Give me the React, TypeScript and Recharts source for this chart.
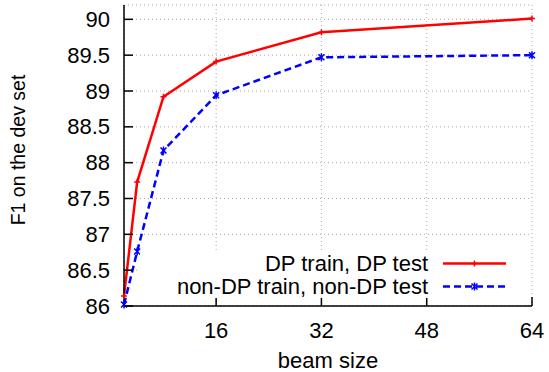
import { LineChart, Line, XAxis, YAxis, CartesianGrid, Legend } from 'recharts';

// beam size vs F1 on dev set
const beamSizes = [2, 4, 8, 16, 32, 64];
const dpTrainDpTest = [86.14, 87.73, 88.92, 89.41, 89.82, 90.01];
const nonDpTrainNonDpTest = [86.02, 86.76, 88.17, 88.94, 89.47, 89.5];
const xTicks = [16, 32, 48, 64];
const yTicks = [86, 86.5, 87, 87.5, 88, 88.5, 89, 89.5, 90];
const seriesNames = ['DP train, DP test', 'non-DP train, non-DP test'];

const data = beamSizes.map((b, i) => ({
  beam: b,
  dp: dpTrainDpTest[i],
  nonDp: nonDpTrainNonDpTest[i],
}));

const FONT = '"Liberation Sans", Arial, Helvetica, sans-serif';
const FS = 22;
const TICK = 9;
const RED = '#ff0000';
const BLUE = '#0000ff';

function LeftTick({ x, y, payload }: any) {
  return (
    <g>
      <line x1={x} x2={x + TICK} y1={y} y2={y} stroke="#000" strokeWidth={1.5} />
      <text x={x - 14} y={y} textAnchor="end" dominantBaseline="central" fontSize={FS} fontFamily={FONT} fill="#000">
        {payload.value}
      </text>
    </g>
  );
}

function RightTick({ x, y }: any) {
  return <line x1={x} x2={x - TICK} y1={y} y2={y} stroke="#000" strokeWidth={1.5} />;
}

function BottomTick({ x, y, payload }: any) {
  return (
    <g>
      <line x1={x} x2={x} y1={y} y2={y - TICK} stroke="#000" strokeWidth={1.5} />
      <text x={x} y={y + 24} textAnchor="middle" dominantBaseline="central" fontSize={FS} fontFamily={FONT} fill="#000">
        {payload.value}
      </text>
    </g>
  );
}

function TopTick({ x, y }: any) {
  return <line x1={x} x2={x} y1={y} y2={y + TICK} stroke="#000" strokeWidth={1.5} />;
}

const plusDot = ({ cx, cy, key }: any) => (
  <path key={key} d={`M${cx - 3},${cy}H${cx + 3}M${cx},${cy - 3}V${cy + 3}`} stroke={RED} strokeWidth={1.5} fill="none" />
);

const crossDot = ({ cx, cy, key }: any) => (
  <path
    key={key}
    d={`M${cx - 3},${cy - 3}L${cx + 3},${cy + 3}M${cx - 3},${cy + 3}L${cx + 3},${cy - 3}M${cx},${cy - 4}V${cy + 4}`}
    stroke={BLUE}
    strokeWidth={1.5}
    fill="none"
  />
);

function KeyBox() {
  const row = (label: string, color: string, dash: string | undefined, marker: 'plus' | 'cross') => (
    <div style={{ display: 'flex', alignItems: 'center', height: 23 }}>
      <span style={{ width: 288, textAlign: 'right', fontSize: FS, fontFamily: FONT, color: '#000', lineHeight: '23px', whiteSpace: 'nowrap' }}>
        {label}
      </span>
      <svg width={78} height={23} style={{ marginLeft: 15 }}>
        <line x1={0} x2={63} y1={11.5} y2={11.5} stroke={color} strokeWidth={2.5} strokeDasharray={dash} />
        {marker === 'plus'
          ? plusDot({ cx: 31.5, cy: 11.5 })
          : crossDot({ cx: 31.5, cy: 11.5 })}
      </svg>
    </div>
  );
  return (
    <div style={{ background: '#fff', padding: 0 }}>
      {row(seriesNames[0], RED, undefined, 'plus')}
      {row(seriesNames[1], BLUE, '7 4', 'cross')}
    </div>
  );
}

export default function App() {
  return (
    <div style={{ position: 'absolute', left: 0, top: 0, width: 549, height: 372, background: '#fff' }}>
      <LineChart width={549} height={372} data={data} margin={{ top: 5, right: 17, left: 0, bottom: 0 }}>
        <CartesianGrid stroke="#aaaaaa" strokeDasharray="1 3" strokeWidth={1} />
        <XAxis
          dataKey="beam"
          type="number"
          domain={[2, 64]}
          ticks={xTicks}
          height={66}
          tickSize={0}
          tickMargin={0}
          tickLine={false}
          tick={BottomTick}
          interval={0}
          axisLine={{ stroke: '#000', strokeWidth: 1.5 }}
          label={{
            content: ({ viewBox }: any) => (
              <text x={viewBox.x + viewBox.width / 2} y={viewBox.y + 54} textAnchor="middle" dominantBaseline="central" fontSize={FS} fontFamily={FONT} fill="#000">
                beam size
              </text>
            ),
          }}
        />
        <XAxis
          xAxisId="top"
          orientation="top"
          dataKey="beam"
          type="number"
          domain={[2, 64]}
          ticks={[16, 32, 48]}
          height={0}
          tickSize={0}
          tickMargin={0}
          tickLine={false}
          tick={TopTick}
          interval={0}
          axisLine={{ stroke: '#000', strokeWidth: 1.5 }}
        />
        <YAxis
          type="number"
          domain={[86, 90.2]}
          ticks={yTicks}
          width={124}
          tickSize={0}
          tickMargin={0}
          tickLine={false}
          tick={LeftTick}
          interval={0}
          axisLine={{ stroke: '#000', strokeWidth: 1.5 }}
          label={{
            content: ({ viewBox }: any) => {
              const cx = viewBox.x + 18;
              const cy = viewBox.y + 145;
              return (
                <text x={cx} y={cy} transform={`rotate(-90 ${cx} ${cy})`} textAnchor="middle" dominantBaseline="central" fontSize={19.5} fontFamily={FONT} fill="#000">
                  F1 on the dev set
                </text>
              );
            },
          }}
        />
        <YAxis
          yAxisId="right"
          orientation="right"
          type="number"
          domain={[86, 90.2]}
          ticks={yTicks.slice(1)}
          width={0}
          tickSize={0}
          tickMargin={0}
          tickLine={false}
          tick={RightTick}
          interval={0}
          axisLine={{ stroke: '#000', strokeWidth: 1.5 }}
        />
        <Legend
          layout="horizontal"
          verticalAlign="middle"
          align="center"
          content={() => <KeyBox />}
          wrapperStyle={{ left: 140, top: 252, width: 390, height: 46 }}
        />
        <Line
          dataKey="dp"
          name={seriesNames[0]}
          stroke={RED}
          strokeWidth={2.5}
          dot={plusDot}
          activeDot={false}
          isAnimationActive={false}
        />
        <Line
          dataKey="nonDp"
          name={seriesNames[1]}
          stroke={BLUE}
          strokeWidth={2.5}
          strokeDasharray="7 4"
          dot={crossDot}
          activeDot={false}
          isAnimationActive={false}
        />
      </LineChart>
    </div>
  );
}
